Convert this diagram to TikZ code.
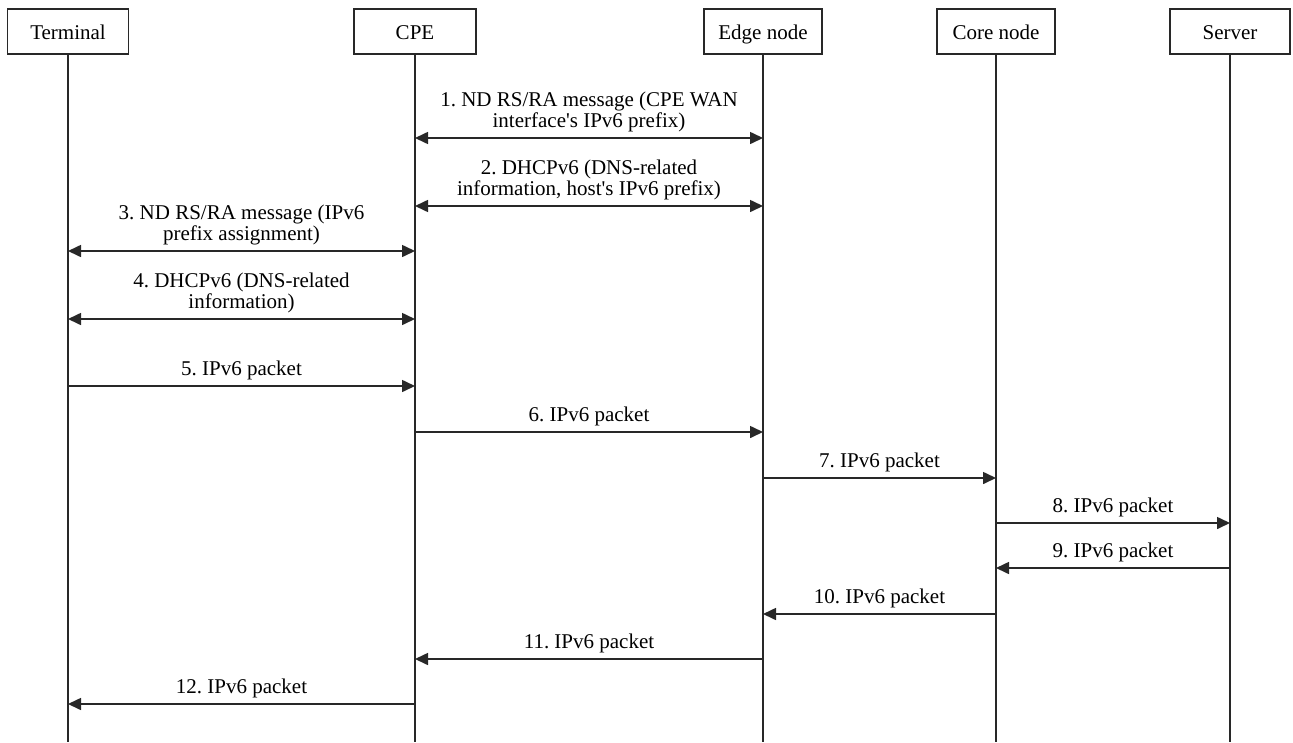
\documentclass[tikz,border=0pt]{standalone}
\usepackage{fontspec}
\setmainfont{Liberation Serif}
\usetikzlibrary{arrows.meta}
\frenchspacing
\definecolor{lc}{RGB}{40,40,40}
\tikzset{
  actor/.style={draw=lc, line width=1.3pt, minimum height=45pt, inner sep=0pt, text height=18pt, text depth=2pt, font=\fontsize{21}{21}\selectfont},
  life/.style={draw=lc, line width=1.8pt},
  msg/.style={draw=lc, line width=1.6pt, -{Triangle[length=13pt,width=12pt]}},
  bimsg/.style={draw=lc, line width=1.6pt, {Triangle[length=13pt,width=12pt]}-{Triangle[length=13pt,width=12pt]}},
  lbl/.style={above=5pt, inner sep=0pt, align=center, font=\fontsize{21}{21.5}\selectfont}
}
\begin{document}
\begin{tikzpicture}[x=1pt,y=-1pt]
\useasboundingbox (0,0) rectangle (1293,742);
% actors
\node[actor, minimum width=121pt] (term) at (68,31.5) {Terminal};
\node[actor, minimum width=122pt] (cpe) at (415,31.5) {CPE};
\node[actor, minimum width=118pt] (edge) at (763,31.5) {Edge node};
\node[actor, minimum width=118pt] (core) at (996,31.5) {Core node};
\node[actor, minimum width=120pt] (serv) at (1230,31.5) {Server};
% lifeline ends
\coordinate (bot) at (0,742);
\draw[life] (term.south) -- (term |- bot);
\draw[life] (cpe.south) -- (cpe |- bot);
\draw[life] (edge.south) -- (edge |- bot);
\draw[life] (core.south) -- (core |- bot);
\draw[life] (serv.south) -- (serv |- bot);
% message rows
\coordinate (y1) at (0,138);
\coordinate (y2) at (0,206);
\coordinate (y3) at (0,251);
\coordinate (y4) at (0,319);
\coordinate (y5) at (0,386);
\coordinate (y6) at (0,432);
\coordinate (y7) at (0,478);
\coordinate (y8) at (0,523);
\coordinate (y9) at (0,568);
\coordinate (y10) at (0,614);
\coordinate (y11) at (0,659);
\coordinate (y12) at (0,704);
% messages
\draw[bimsg] (cpe |- y1) -- node[lbl] {1. ND RS/RA message (CPE WAN\\interface\textquotesingle s IPv6 prefix)} (edge |- y1);
\draw[bimsg] (cpe |- y2) -- node[lbl] {2. DHCPv6 (DNS-related\\information, host\textquotesingle s IPv6 prefix)} (edge |- y2);
\draw[bimsg] (term |- y3) -- node[lbl] {3. ND RS/RA message (IPv6\\prefix assignment)} (cpe |- y3);
\draw[bimsg] (term |- y4) -- node[lbl] {4. DHCPv6 (DNS-related\\information)} (cpe |- y4);
\draw[msg] (term |- y5) -- node[lbl] {5. IPv6 packet} (cpe |- y5);
\draw[msg] (cpe |- y6) -- node[lbl] {6. IPv6 packet} (edge |- y6);
\draw[msg] (edge |- y7) -- node[lbl] {7. IPv6 packet} (core |- y7);
\draw[msg] (core |- y8) -- node[lbl] {8. IPv6 packet} (serv |- y8);
\draw[msg] (serv |- y9) -- node[lbl] {9. IPv6 packet} (core |- y9);
\draw[msg] (core |- y10) -- node[lbl] {10. IPv6 packet} (edge |- y10);
\draw[msg] (edge |- y11) -- node[lbl] {11. IPv6 packet} (cpe |- y11);
\draw[msg] (cpe |- y12) -- node[lbl] {12. IPv6 packet} (term |- y12);
\end{tikzpicture}
\end{document}
